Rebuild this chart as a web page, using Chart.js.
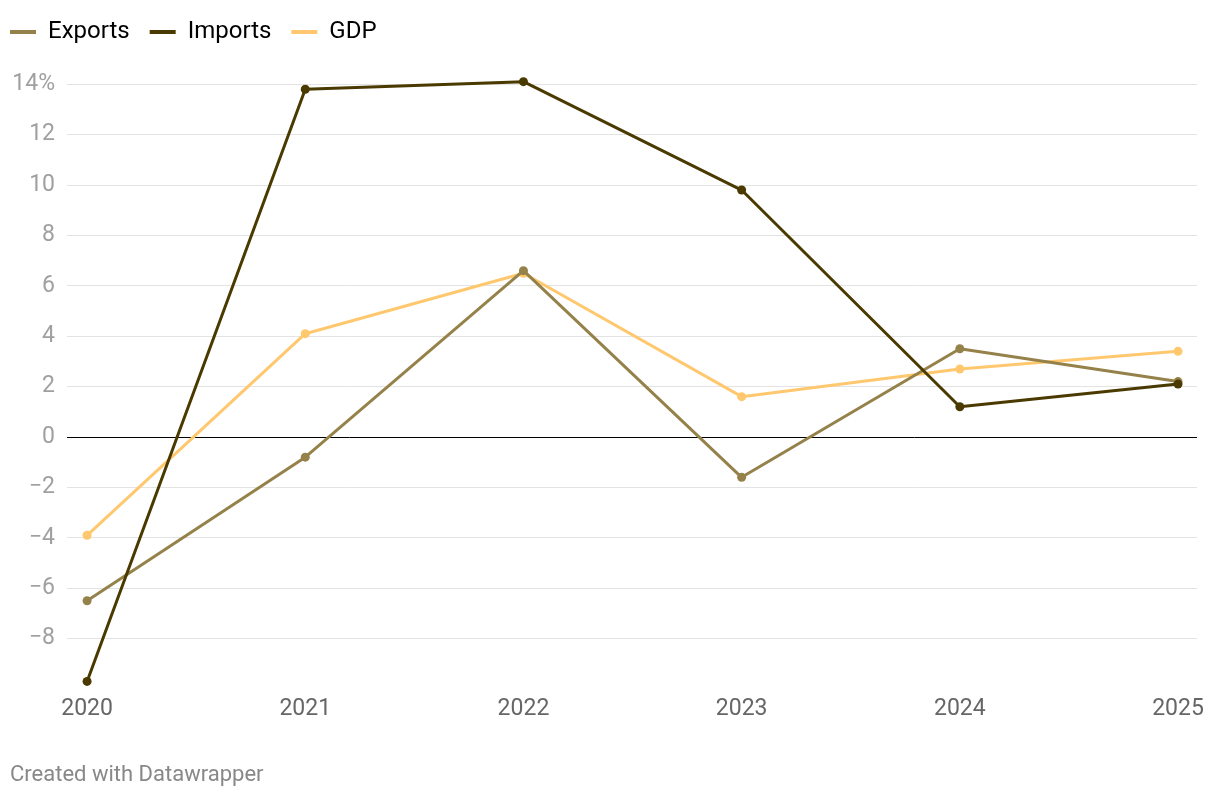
<!DOCTYPE html>
<html>
<head>
<meta charset="utf-8">
<script src="https://cdn.jsdelivr.net/npm/chart.js@4"></script>
<style>
  html, body { margin: 0; padding: 0; background: #fff; }
  #wrap { position: relative; width: 1220px; height: 798px; }
  #credit { position: absolute; left: 10px; top: 761px; font: 22px Roboto, sans-serif; color: #888; line-height: 26px; }
</style>
</head>
<body>
<div id="wrap">
  <canvas id="c" width="1220" height="798"></canvas>
  <div id="credit">Created with Datawrapper</div>
</div>
<script>
const years = [2020, 2021, 2022, 2023, 2024, 2025];
const exportsVals = [-6.5, -0.8, 6.6, -1.6, 3.5, 2.2];
const importsVals = [-9.7, 13.8, 14.1, 9.8, 1.2, 2.1];
const gdpVals = [-3.9, 4.1, 6.5, 1.6, 2.7, 3.4];
const yTickValues = [-8, -6, -4, -2, 0, 2, 4, 6, 8, 10, 12, 14];

const pts = arr => arr.map((v, i) => ({ x: years[i], y: v }));

const font = 'Roboto, sans-serif';
// desired vertical mapping: zero line at 437px, 25.2px per unit
const ZERO_PX = 437, PX_PER_UNIT = 25.2;

const chart = new Chart(document.getElementById('c'), {
  type: 'line',
  data: {
    datasets: [
      { label: 'Exports', data: pts(exportsVals), borderColor: '#95824a', backgroundColor: '#95824a', order: 1 },
      { label: 'Imports', data: pts(importsVals), borderColor: '#4a3a00', backgroundColor: '#4a3a00', order: 0 },
      { label: 'GDP', data: pts(gdpVals), borderColor: '#ffc86e', backgroundColor: '#ffc86e', order: 2 }
    ]
  },
  options: {
    responsive: false,
    animation: false,
    devicePixelRatio: 1,
    layout: { padding: { top: 0, right: 23, left: -10, bottom: 0 } },
    elements: {
      line: { borderWidth: 3, tension: 0, borderCapStyle: 'round', borderJoinStyle: 'round' },
      point: { radius: 4.5, borderWidth: 0, hoverRadius: 4.5 }
    },
    plugins: {
      tooltip: { enabled: false },
      legend: {
        position: 'top',
        align: 'start',
        labels: {
          font: { family: font, size: 24 },
          color: '#222',
          boxWidth: 26,
          boxHeight: 4,
          padding: 20,
          generateLabels(chart) {
            return chart.data.datasets.map((ds, i) => ({
              text: ds.label,
              fillStyle: ds.borderColor,
              strokeStyle: ds.borderColor,
              lineWidth: 0,
              datasetIndex: i,
              hidden: false
            }));
          }
        }
      }
    },
    scales: {
      x: {
        type: 'linear',
        min: 2019.908,
        max: 2025.087,
        grid: { display: false, drawTicks: false },
        border: { display: false },
        afterBuildTicks(axis) { axis.ticks = years.map(v => ({ value: v })); },
        afterFit(axis) { axis.height = 798 - 686; },
        ticks: {
          font: { family: font, size: 23 },
          color: '#666',
          padding: 9,
          maxRotation: 0,
          callback: v => String(v)
        }
      },
      y: {
        min: -9.9,
        max: 15,
        afterBuildTicks(axis) { axis.ticks = yTickValues.map(v => ({ value: v })); },
        afterFit(axis) { axis.width = 77; },
        border: { display: false },
        grid: {
          drawTicks: false,
          color: ctx => (ctx.tick && ctx.tick.value === 0) ? '#000' : '#e3e3e3',
          lineWidth: 1
        },
        ticks: {
          font: { family: font, size: 23 },
          color: '#a0a0a0',
          padding: 12,
          callback: v => v === 14 ? '14%' : (v < 0 ? '\u2212' + Math.abs(v) : String(v))
        }
      }
    }
  }
});

// set the y range so that the axis matches the intended pixel scale
const area = chart.chartArea;
chart.options.scales.y.max = (ZERO_PX - area.top) / PX_PER_UNIT;
chart.options.scales.y.min = -(area.bottom - ZERO_PX) / PX_PER_UNIT;
chart.update();
</script>
</body>
</html>
